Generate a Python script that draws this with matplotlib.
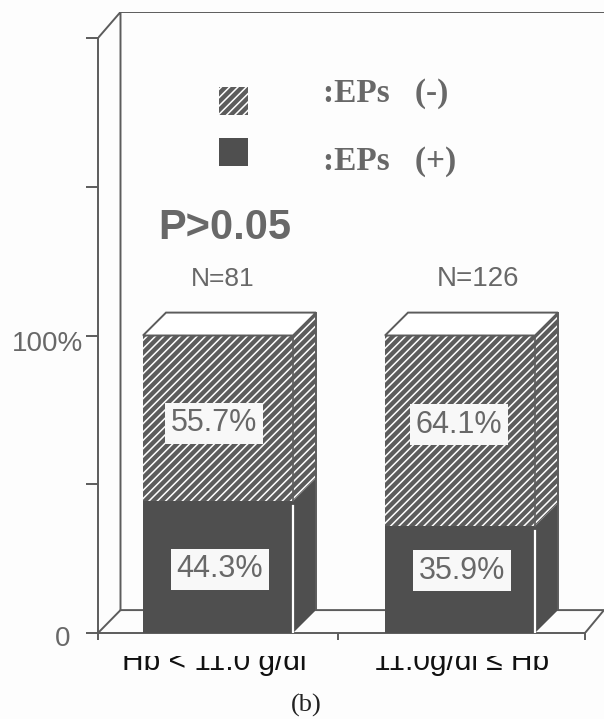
import matplotlib
matplotlib.use('Agg')
import matplotlib.pyplot as plt
from matplotlib.patches import Rectangle
from matplotlib.transforms import Bbox, ScaledTranslation

categorias = ['Hb < 11.0 g/dl', '11.0g/dl ≤ Hb']
n_labels = ['N=81', 'N=126']
eps_pos = [44.3, 35.9]
eps_neg = [55.7, 64.1]
yticks = [0, 50, 100, 150, 200]
ytick_labels = ['0', '', '100%', '', '']
leyenda = [':EPs   (-)', ':EPs   (+)']

plt.rcParams['font.family'] = ['Liberation Sans', 'DejaVu Sans']
plt.rcParams['hatch.linewidth'] = 1.1

GRIS = '#5c5c5c'
OSCURO = '#4f4f4f'
TEXTO = '#686868'
TRAMA = '////'

# el eje x va en pixeles para colocar la perspectiva falsa
centros = [218, 460]
ancho = 150
dx = 23
dy = 7.7
esc = 2.975

fig = plt.figure(figsize=(6.04, 7.19), dpi=100, facecolor='#fdfdfd')
ax = fig.add_axes([98 / 604, (719 - 633) / 719, 506 / 604, (633 - 12) / 719])
ax.set_xlim(98, 604)
ax.set_ylim(0, (633 - 12) / esc)
ax.set_facecolor('none')

for s in ['top', 'right']:
    ax.spines[s].set_visible(False)
for s in ['left', 'bottom']:
    ax.spines[s].set_color(GRIS)
    ax.spines[s].set_linewidth(1.4)
ax.spines['left'].set_bounds(0, 200)
ax.spines['bottom'].set_bounds(98, 585)

ax.set_yticks(yticks)
ax.set_yticklabels(ytick_labels, fontsize=20, color=TEXTO)
ax.tick_params(axis='y', length=9, width=1.4, color=GRIS, pad=3)
ax.set_xticks([98, 338, 585])
ax.set_xticklabels(['', '', ''])
ax.tick_params(axis='x', length=5, width=1.4, color=GRIS)

# el 0 y el 100% no estan alineados en el original
etiquetas = ax.get_yticklabels()
etiquetas[0].set_transform(etiquetas[0].get_transform() + ScaledTranslation(-8 / 72, -2 / 72, fig.dpi_scale_trans))
etiquetas[2].set_transform(etiquetas[2].get_transform() + ScaledTranslation(1 / 72, -4 / 72, fig.dpi_scale_trans))

# pared del fondo y suelo
techo = (633 - 12) / esc
ax.plot([98, 120.5, 120.5], [200, techo, dy], color=GRIS, lw=1.4)
ax.plot([120.5, 604], [techo, techo], color=GRIS, lw=1.4)
ax.plot([98, 120.5, 604, 585], [0, dy, dy, 0], color=GRIS, lw=1.4)

for i in range(len(centros)):
    izq = centros[i] - ancho / 2
    der = centros[i] + ancho / 2
    pos = eps_pos[i]
    total = eps_pos[i] + eps_neg[i]
    ax.bar(centros[i], pos, width=ancho, color=OSCURO, linewidth=0, zorder=3)
    ax.bar(centros[i], eps_neg[i], width=ancho, bottom=pos, color=GRIS,
           edgecolor='white', hatch=TRAMA, linewidth=0, zorder=3)
    # cara lateral
    ax.fill([der, der + dx, der + dx, der], [0, dy, pos + dy, pos],
            color=OSCURO, linewidth=0, zorder=3)
    ax.fill([der, der + dx, der + dx, der], [pos, pos + dy, total + dy, total],
            facecolor=GRIS, edgecolor='white', hatch=TRAMA, linewidth=0, zorder=3)
    # cara superior
    ax.fill([izq, izq + dx, der + dx, der], [total, total + dy, total + dy, total],
            facecolor='white', edgecolor=GRIS, linewidth=1.4, zorder=4)
    ax.plot([der + dx, der + dx], [dy, total + dy], color=GRIS, lw=1.4, zorder=4)
    ax.plot([der, der], [pos, total], color=GRIS, lw=1.2, zorder=4)
    ax.plot([der, der], [0, pos - 1.5], color='white', lw=1.6, zorder=5)

caja = dict(facecolor='#f8f8f8', edgecolor='none', pad=4)
pos_textos = [(214, 70.5), (220, 21.5), (459, 70), (462, 21)]
textos = ['%.1f%%' % eps_neg[0], '%.1f%%' % eps_pos[0], '%.1f%%' % eps_neg[1], '%.1f%%' % eps_pos[1]]
for (x, y), t in zip(pos_textos, textos):
    ax.text(x, y, t, fontsize=22, color=TEXTO, ha='center', va='center', bbox=caja, zorder=6)

# leyenda a mano, igual que en el original
ax.add_patch(Rectangle((219, 174), 29, 9.5, facecolor=GRIS, edgecolor='white', hatch=TRAMA, linewidth=0))
ax.add_patch(Rectangle((219, 157), 29, 9.5, facecolor=OSCURO, linewidth=0))
ax.text(323, 181.5, leyenda[0], family='Liberation Serif', fontsize=24, weight='bold', color=TEXTO, va='center')
ax.text(323, 158.5, leyenda[1], family='Liberation Serif', fontsize=24, weight='bold', color=TEXTO, va='center')

ax.text(158, 136, 'P>0.05', fontsize=30, weight='bold', color=TEXTO, va='center')
ax.text(223, 119, n_labels[0], fontsize=19, color=TEXTO, ha='center', va='center')
ax.text(478, 119, n_labels[1], fontsize=20, color=TEXTO, ha='center', va='center')

# las etiquetas estan cortadas por arriba en la imagen original
corte = Bbox([[0, 0], [604, 63]])
for x, c in zip([214, 462], categorias):
    t = ax.text(x, -12.6, c, fontsize=21.5, color='#111111', ha='center', va='baseline', clip_on=True)
    t.set_clip_box(corte)

ax.text(306, -24.5, '(b)', family='Liberation Serif', fontsize=19, color='#222222', ha='center', va='center')

fig.savefig('out.png', dpi=100, facecolor=fig.get_facecolor())
